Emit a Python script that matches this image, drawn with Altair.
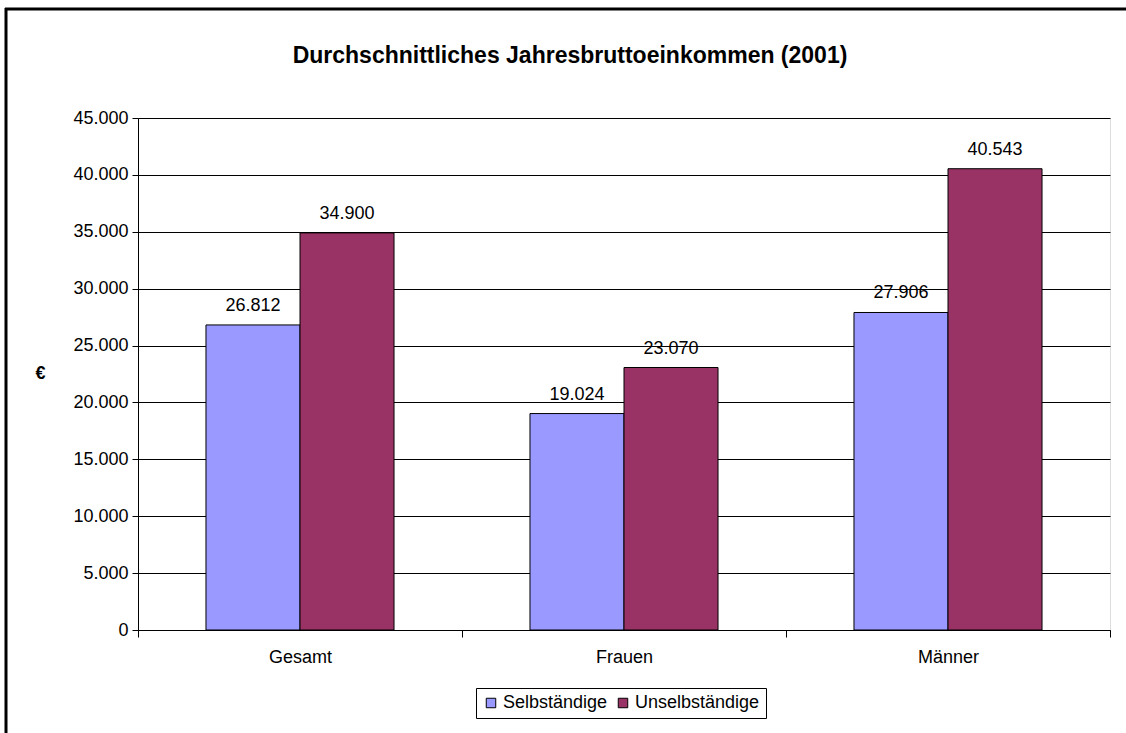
import altair as alt
import pandas as pd

categories = ["Gesamt", "Frauen", "Männer"]
series = ["Selbständige", "Unselbständige"]
selbstaendige = [26812, 19024, 27906]
unselbstaendige = [34900, 23070, 40543]
colors = ["#9999FF", "#993366"]

rows = []
for c, a, b in zip(categories, selbstaendige, unselbstaendige):
    rows.append({"Kategorie": c, "Gruppe": series[0], "Wert": a})
    rows.append({"Kategorie": c, "Gruppe": series[1], "Wert": b})
df = pd.DataFrame(rows)
df["Label"] = df["Wert"].map(lambda v: f"{v:,}".replace(",", "."))

FONT = "Liberation Sans"
FS = 18

x_enc = alt.X("Kategorie:N", sort=categories, title=None,
              scale=alt.Scale(paddingInner=0, paddingOuter=0),
              axis=alt.Axis(labelAngle=0, tickBand="extent", domainColor="black",
                            tickColor="black", tickSize=7, labelPadding=11,
                            labelFontSize=FS, labelColor="black", labelFont=FONT,
                            grid=False))
xo_enc = alt.XOffset("Gruppe:N", sort=series,
                     scale=alt.Scale(paddingInner=0, paddingOuter=0.723))
y_enc = alt.Y("Wert:Q", title="€",
              scale=alt.Scale(domain=[0, 45000], nice=False),
              axis=alt.Axis(values=list(range(0, 45001, 5000)), format=",.0f",
                            labelExpr="replace(datum.label, ',', '.')",
                            tickColor="black", tickSize=6, domainColor="black",
                            gridColor="black", gridWidth=1, labelFontSize=FS,
                            labelColor="black", labelFont=FONT, labelPadding=4,
                            titleAngle=0, titleX=-98, titleY=264, titleFontSize=FS,
                            titleFont=FONT, titleFontWeight="bold", titleColor="black"))

bars = alt.Chart(df).mark_bar(stroke="black", strokeWidth=1).encode(
    x=x_enc, xOffset=xo_enc, y=y_enc,
    color=alt.Color("Gruppe:N", sort=series,
                    scale=alt.Scale(domain=series, range=colors),
                    legend=alt.Legend(title=None, orient="none", legendX=338, legendY=570,
                                      direction="horizontal", symbolType="square",
                                      symbolSize=90, symbolStrokeColor="black",
                                      symbolStrokeWidth=1, labelFontSize=FS,
                                      labelFont=FONT, labelColor="black",
                                      strokeColor="black", padding=6,
                                      columnPadding=6, labelOffset=3,
                                      fillColor="white")),
)

text = alt.Chart(df).mark_text(baseline="alphabetic", dy=-14, fontSize=FS, font=FONT,
                               color="black").encode(
    x=alt.X("Kategorie:N", sort=categories), xOffset=alt.XOffset("Gruppe:N", sort=series),
    y="Wert:Q", text="Label:N",
)

frame = pd.DataFrame({"a": [0]})
left_line = alt.Chart(frame).mark_rule(color="black", strokeWidth=3).encode(
    x=alt.value(-132), y=alt.value(-110), y2=alt.value(615))
top_line = alt.Chart(frame).mark_rule(color="black", strokeWidth=3).encode(
    y=alt.value(-109), x=alt.value(-133), x2=alt.value(988))

chart = alt.layer(bars, text, left_line, top_line).properties(
    width=972, height=512,
    title=alt.TitleParams("Durchschnittliches Jahresbruttoeinkommen (2001)",
                          font=FONT, fontSize=23, fontWeight="bold", color="black",
                          anchor="middle", offset=-61, dx=-54),
    autosize=alt.AutoSizeParams(type="none"),
    padding={"left": 138, "top": 118, "right": 16, "bottom": 103},
).configure_view(fill="#C0C0C0", stroke="#808080", strokeWidth=2
).configure(background="white")

chart.save("out.html", embed_options={"renderer": "svg", "actions": False})
